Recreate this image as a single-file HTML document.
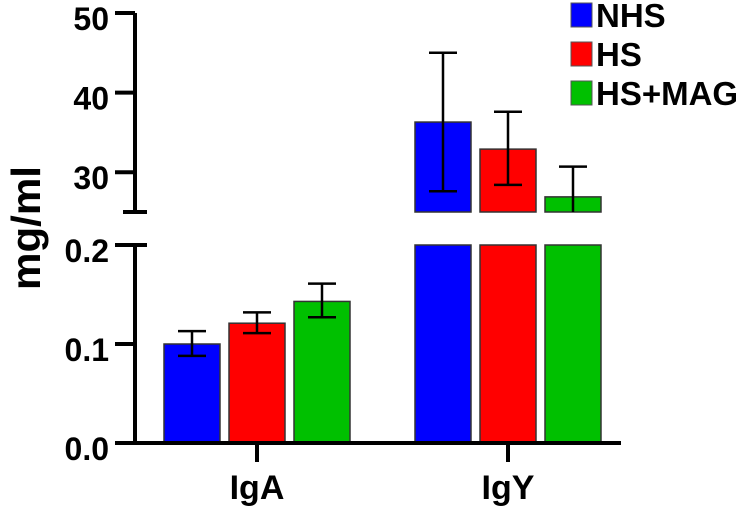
<!DOCTYPE html>
<html><head><meta charset="utf-8"><style>
html,body{margin:0;padding:0;background:#fff;}
svg text{font-family:"Liberation Sans",sans-serif;font-weight:bold;fill:#000;}
</style></head><body>
<svg id="chart" width="750" height="508" viewBox="0 0 750 508" xmlns="http://www.w3.org/2000/svg"></svg>
<script>
const categories = ["IgA", "IgY"];
const seriesNames = ["NHS", "HS", "HS+MAG"];
const seriesColors = ["#0000ff", "#ff0000", "#00c000"];
const meanNHS = [0.100, 36.3];
const meanHS = [0.121, 32.9];
const meanMAG = [0.143, 26.9];
const errLowNHS = [0.088, 27.6];
const errHighNHS = [0.113, 45.0];
const errLowHS = [0.111, 28.4];
const errHighHS = [0.132, 37.6];
const errLowMAG = [0.127, 25.0];
const errHighMAG = [0.161, 30.7];
const lowTicks = [0.0, 0.1, 0.2];
const lowTickLabels = ["0.0", "0.1", "0.2"];
const highTicks = [30, 40, 50];
const highTickLabels = ["30", "40", "50"];

const means = [meanNHS, meanHS, meanMAG];
const lows = [errLowNHS, errLowHS, errLowMAG];
const highs = [errHighNHS, errHighHS, errHighMAG];

const NS = "http://www.w3.org/2000/svg";
const svg = document.getElementById("chart");
function el(tag, attrs, parent) {
  const e = document.createElementNS(NS, tag);
  for (const k in attrs) e.setAttribute(k, attrs[k]);
  (parent || svg).appendChild(e);
  return e;
}
const lowMin = 0, lowMax = 0.2, lowY0 = 443, lowY1 = 245;
const highMin = 25, highMax = 50, highY0 = 212, highY1 = 13;
function yLow(v) { return lowY0 - (v - lowMin) / (lowMax - lowMin) * (lowY0 - lowY1); }
function yHigh(v) { return highY0 - (v - highMin) / (highMax - highMin) * (highY0 - highY1); }
function clampLow(v) { return Math.min(v, lowMax); }
const axisX = 135;
const groupCenters = [257, 508];
const barW = 56, barStep = 65;
function barX(g, s) { return groupCenters[g] + (s - 1) * barStep - barW / 2; }

let e;
e = el("line", {x1: axisX, y1: lowY0, x2: axisX, y2: lowY1, stroke: "#000", "stroke-width": 4});


e = el("line", {x1: axisX, y1: highY0, x2: axisX, y2: highY1, stroke: "#000", "stroke-width": 4});


e = el("line", {x1: 123, y1: highY0, x2: 147, y2: highY0, stroke: "#000", "stroke-width": 4});


e = el("line", {x1: 123, y1: lowY1, x2: 147, y2: lowY1, stroke: "#000", "stroke-width": 4});



lowTicks.forEach((t, i) => {
  const y = yLow(t);
  const tk = el("line", {x1: 115, y1: y, x2: axisX, y2: y, stroke: "#000", "stroke-width": 4});
  
  
  const tx = el("text", {x: 109, y: y + 17, "text-anchor": "end", "font-size": 32});
  tx.textContent = lowTickLabels[i];
  
  
});
highTicks.forEach((t, i) => {
  const y = yHigh(t);
  const tk = el("line", {x1: 115, y1: y, x2: axisX, y2: y, stroke: "#000", "stroke-width": 4});
  
  
  const tx = el("text", {x: 109, y: y + 17, "text-anchor": "end", "font-size": 32});
  tx.textContent = highTickLabels[i];
  
  
});

e = el("text", {x: 0, y: 0, transform: "translate(40,228) rotate(-90)", "text-anchor": "middle", "font-size": 41, textLength: 124, lengthAdjust: "spacingAndGlyphs"});
e.textContent = "mg/ml";



for (let g = 0; g < categories.length; g++) {
  for (let s = 0; s < seriesNames.length; s++) {
    const v = means[s][g];
    const x = barX(g, s);
    const cx = x + barW / 2;
    const top = yLow(clampLow(v));
    const r = el("rect", {x: x, y: top, width: barW, height: lowY0 - top, fill: seriesColors[s], stroke: "#333", "stroke-width": 1.5});
    
    
    if (v > lowMax) {
      const t2 = yHigh(Math.min(v, highMax));
      const r2 = el("rect", {x: x, y: t2, width: barW, height: highY0 - t2, fill: seriesColors[s], stroke: "#333", "stroke-width": 1.5});
      
      
    }
    const yf = v > lowMax ? yHigh : yLow;
    const yh = yf(highs[s][g]), yl = yf(lows[s][g]);
    const eb = el("g", {stroke: "#000", "stroke-width": 2.5});
    
    
    el("line", {x1: cx, y1: yh, x2: cx, y2: yl}, eb);
    el("line", {x1: cx - 14, y1: yh, x2: cx + 14, y2: yh}, eb);
    if (yl < (v > lowMax ? highY0 - 1 : lowY0)) el("line", {x1: cx - 14, y1: yl, x2: cx + 14, y2: yl}, eb);
  }
}

e = el("line", {x1: 115, y1: lowY0, x2: 621, y2: lowY0, stroke: "#000", "stroke-width": 4});


categories.forEach((c, g) => {
  const tk = el("line", {x1: groupCenters[g], y1: lowY0, x2: groupCenters[g], y2: 462, stroke: "#000", "stroke-width": 4});
  
  
  const tx = el("text", {x: groupCenters[g], y: 499, "text-anchor": "middle", "font-size": 34});
  tx.textContent = c;
  
  
});

seriesNames.forEach((n, s) => {
  const y = 3 + s * 39;
  const lg = el("g", {});
  
  
  el("rect", {x: 571, y: y, width: 21, height: 24, fill: seriesColors[s], stroke: "#555", "stroke-width": 1}, lg);
  const tx = el("text", {x: 596, y: y + 24, "font-size": 33}, lg);
  tx.textContent = n;
});
</script>
</body></html>
